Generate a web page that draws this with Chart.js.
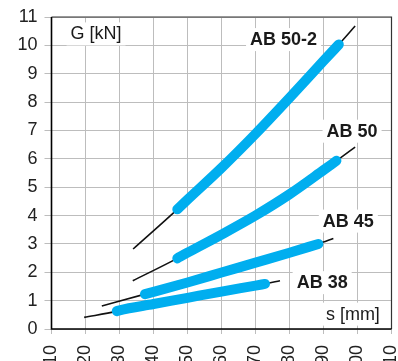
<!DOCTYPE html>
<html>
<head>
<meta charset="utf-8">
<script src="https://cdn.jsdelivr.net/npm/chart.js@4/dist/chart.umd.min.js"></script>
<style>
  html, body { margin: 0; padding: 0; background: #fff; overflow: hidden; width: 398px; height: 361px; }
  canvas { display: block; }
</style>
</head>
<body>
<canvas id="c" width="398" height="380"></canvas>
<script>
// ---- data (s in mm, G in kN) ----
const xTicks = [10, 20, 30, 40, 50, 60, 70, 80, 90, 100, 110];
const yTicks = [0, 1, 2, 3, 4, 5, 6, 7, 8, 9, 10, 11];

const ab502S = [34.0, 47.0, 50, 60, 70, 80, 90, 94.5, 99.3];
const ab502G = [2.82, 4.22, 4.56, 5.68, 6.88, 8.15, 9.45, 10.03, 10.68];
const ab502Range = [47.0, 94.5];

const ab50S = [33.9, 47.0, 50, 60, 70, 80, 90, 93.8, 99.3];
const ab50G = [1.70, 2.49, 2.69, 3.33, 4.00, 4.75, 5.60, 5.93, 6.41];
const ab50Range = [47.0, 93.8];

const ab45S = [24.8, 37.5, 40, 50, 60, 70, 80, 88.5, 92.9];
const ab45G = [0.81, 1.23, 1.31, 1.64, 1.99, 2.34, 2.69, 3.00, 3.19];
const ab45Range = [37.5, 88.5];

const ab38S = [19.6, 29.2, 30, 40, 50, 60, 70, 72.8, 77.2];
const ab38G = [0.41, 0.63, 0.66, 0.88, 1.10, 1.32, 1.53, 1.59, 1.70];
const ab38Range = [29.2, 72.8];

const seriesNames = ['AB 50-2', 'AB 50', 'AB 45', 'AB 38'];
const axisTitleY = 'G [kN]';
const axisTitleX = 's [mm]';

// label anchors in data units (left edge s, baseline G)
const labelAnchors = [
  { text: 'AB 50-2', s: 68.4, g: 10.01, bold: true },
  { text: 'AB 50',   s: 90.9, g: 6.78,  bold: true },
  { text: 'AB 45',   s: 89.8, g: 3.61,  bold: true },
  { text: 'AB 38',   s: 82.1, g: 1.44,  bold: true },
  { text: axisTitleY, s: 15.6, g: 10.21, bold: false },
  { text: axisTitleX, s: 90.7, g: 0.33,  bold: false }
];

const BLUE = '#00aeef';
const FONT = '"Liberation Sans", Arial, sans-serif';

function pts(S, G) { return S.map((s, i) => ({ x: s, y: G[i] })); }
function sub(S, G, r) { return pts(S, G).filter(p => p.x >= r[0] && p.x <= r[1]); }

const all = [
  [ab502S, ab502G, ab502Range],
  [ab50S, ab50G, ab50Range],
  [ab45S, ab45G, ab45Range],
  [ab38S, ab38G, ab38Range]
];

const datasets = [];
all.forEach(([S, G, R], i) => {
  datasets.push({
    label: seriesNames[i] + ' range', data: sub(S, G, R), order: 0,
    borderColor: BLUE, borderWidth: 10, borderCapStyle: 'round', borderJoinStyle: 'round',
    pointRadius: 0, cubicInterpolationMode: 'monotone', fill: false
  });
  datasets.push({
    label: seriesNames[i], data: pts(S, G), order: 1,
    borderColor: '#111', borderWidth: 1.6, borderCapStyle: 'butt',
    pointRadius: 0, cubicInterpolationMode: 'monotone', fill: false
  });
});

const labelsPlugin = {
  id: 'labels',
  beforeDatasetsDraw(chart) {
    const ctx = chart.ctx, xs = chart.scales.x, ys = chart.scales.y;
    ctx.save();
    labelAnchors.forEach(a => {
      ctx.font = (a.bold ? 'bold ' : '') + '18px ' + FONT;
      const w = ctx.measureText(a.text).width;
      const x = xs.getPixelForValue(a.s), y = ys.getPixelForValue(a.g);
      ctx.fillStyle = '#fff';
      ctx.fillRect(x - 4, y - 17, w + 8, 23);
      ctx.fillStyle = '#1a1a1a';
      ctx.textBaseline = 'alphabetic';
      ctx.textAlign = 'left';
      ctx.fillText(a.text, x, y);
    });
    ctx.restore();
  },
  afterDraw(chart) {
    const ctx = chart.ctx, a = chart.chartArea;
    ctx.save();
    ctx.strokeStyle = '#333';
    ctx.lineWidth = 1.2;
    ctx.beginPath();
    ctx.moveTo(a.left, a.top); ctx.lineTo(a.right, a.top); ctx.lineTo(a.right, a.bottom);
    ctx.stroke();
    ctx.strokeStyle = '#000';
    ctx.lineWidth = 1.6;
    ctx.beginPath();
    ctx.moveTo(a.left, a.top); ctx.lineTo(a.left, a.bottom); ctx.lineTo(a.right, a.bottom);
    ctx.stroke();
    ctx.restore();
  }
};

new Chart(document.getElementById('c'), {
  type: 'line',
  data: { datasets },
  plugins: [labelsPlugin],
  options: {
    responsive: false,
    animation: false,
    devicePixelRatio: 1,
    layout: { padding: { left: 0.5, top: 17, right: 6.5, bottom: 0 } },
    plugins: { legend: { display: false }, tooltip: { enabled: false } },
    scales: {
      x: {
        type: 'linear', min: xTicks[0], max: xTicks[xTicks.length - 1],
        afterBuildTicks(s) { s.ticks = xTicks.map(v => ({ value: v })); },
        afterFit(s) { s.height = 51; s.paddingLeft = 0; s.paddingRight = 0; },
        grid: { color: '#bdbdbd', lineWidth: 1, tickLength: 5 },
        border: { display: false },
        ticks: { minRotation: 90, maxRotation: 90, padding: 11, color: '#222', font: { family: FONT, size: 18 } }
      },
      y: {
        type: 'linear', min: yTicks[0], max: yTicks[yTicks.length - 1],
        afterBuildTicks(s) { s.ticks = yTicks.map(v => ({ value: v })); },
        afterFit(s) { s.width = 51; s.paddingTop = 0; s.paddingBottom = 0; },
        grid: { color: '#bdbdbd', lineWidth: 1, tickLength: 7 },
        border: { display: false },
        ticks: { padding: 7, color: '#222', font: { family: FONT, size: 18 } }
      }
    }
  }
});
</script>
</body>
</html>
